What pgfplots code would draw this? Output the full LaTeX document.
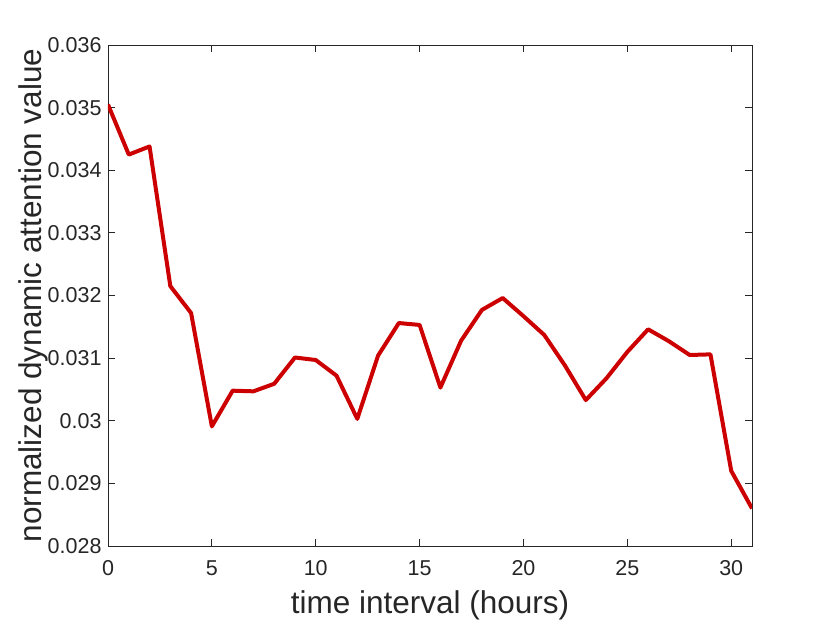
\documentclass[border=0pt]{standalone}
\usepackage{fontspec}
\setmainfont{Liberation Sans}
\usepackage{pgfplots}
\pgfplotsset{compat=1.18}
\definecolor{lineRed}{RGB}{204,0,0}
\definecolor{axGray}{RGB}{38,38,38}
\begin{document}
\begin{tikzpicture}
\path[use as bounding box] (-108pt,-77pt) rectangle (722pt,546pt);
\begin{axis}[
	at={(0pt,0pt)}, anchor=south west,
	scale only axis,
	width=644pt, height=501pt,
	xmin=0, xmax=31,
	ymin=0.028, ymax=0.036,
	xtick={0,5,...,30},
	ytick={0.028,0.029,0.030,0.031,0.032,0.033,0.034,0.035,0.036},
	yticklabels={0.028,0.029,0.03,0.031,0.032,0.033,0.034,0.035,0.036},
	scaled y ticks=false,
	/pgf/number format/assume math mode=true,
	tick align=inside,
	major tick length=7pt,
	axis line style={axGray, line width=0.8pt},
	tick style={axGray, line width=0.8pt},
	tick label style={font=\fontsize{21.5}{26}\selectfont, text=axGray},
	xticklabel style={yshift=-11pt},
	yticklabel style={xshift=-3pt},
	xlabel={time interval (hours)},
	ylabel={normalized dynamic attention value},
	every axis x label/.style={at={(axis description cs:0.5,0)}, yshift=-59pt, anchor=center,
		font=\fontsize{31.5}{36}\selectfont, text=axGray},
	every axis y label/.style={at={(axis description cs:0,0.5)}, xshift=-75pt, rotate=90, anchor=center,
		font=\fontsize{31.5}{36}\selectfont, text=axGray},
]
\addplot[lineRed, line width=4pt, line join=round, mark=none] coordinates {
(0,0.03505)(1,0.03425)(2,0.03438)(3,0.03215)(4,0.03172)(5,0.02991)
(6,0.03048)(7,0.03047)(8,0.03059)(9,0.03101)(10,0.03097)(11,0.03072)
(12,0.03003)(13,0.03104)(14,0.03156)(15,0.03153)(16,0.03053)(17,0.03128)
(18,0.03177)(19,0.03196)(20,0.03167)(21,0.03137)(22,0.03088)(23,0.03033)
(24,0.03068)(25,0.03110)(26,0.03146)(27,0.03127)(28,0.03105)(29,0.03106)
(30,0.02920)(31,0.02860)};
\end{axis}
\end{tikzpicture}
\end{document}
